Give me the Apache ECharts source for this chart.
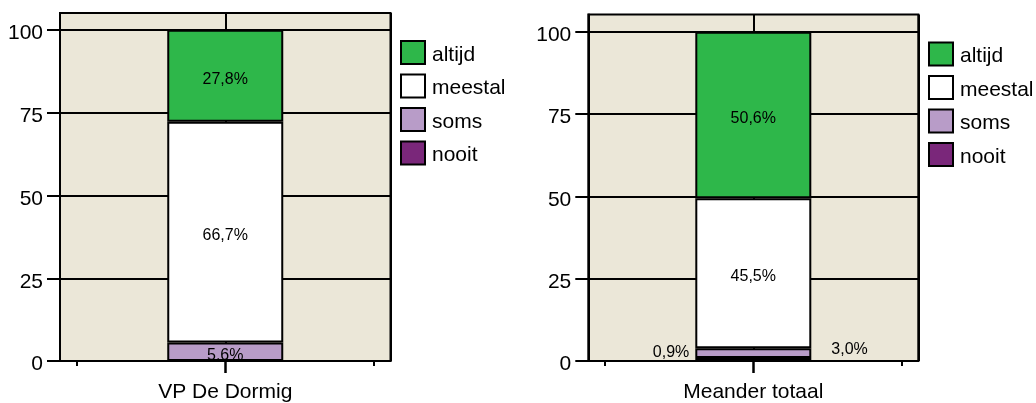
<!DOCTYPE html>
<html>
<head>
<meta charset="utf-8">
<script src="https://cdn.jsdelivr.net/npm/echarts@6/dist/echarts.min.js"></script>
<style>
html,body{margin:0;padding:0;background:#fff;}
#c{width:1036px;height:403px;}
</style>
</head>
<body>
<div id="c"></div>
<script>
// ---- data ----
const categories = ['VP De Dormig', 'Meander totaal'];
const legendOrder = ['altijd', 'meestal', 'soms', 'nooit'];
const altijd = [27.8, 50.6];
const meestal = [66.7, 45.5];
const soms = [5.6, 3.0];
const nooit = [0, 0.9];
const yTicks = [0, 25, 50, 75, 100];
const sideTicks = [-1, 1];

// ---- styling ----
const FONT = 'Liberation Sans, Arial, Helvetica, sans-serif';
const colors = { altijd: '#2EB74A', meestal: '#FFFFFF', soms: '#B89CC8', nooit: '#7A277A' };
const values = { altijd, meestal, soms, nooit };
const stackOrder = ['nooit', 'soms', 'meestal', 'altijd'];
const grids = [
  { left: 60, top: 13, width: 330.5, height: 349 },
  { left: 588.3, top: 14.5, width: 330, height: 347.2 }
];
const legendPos = [{ left: 400, top: 40 }, { left: 928, top: 41.5 }];
const YMAX = 105.2;

// label placement per panel per series
const inside = { position: 'inside', offset: [0, 3.5] };
const labelCfg = [
  { nooit: inside, soms: inside, meestal: inside, altijd: inside },
  { nooit: { position: 'left', distance: 6, offset: [0, -7] }, soms: { position: 'right', distance: 20, offset: [0, -4] },
    meestal: inside, altijd: inside }
];

const fmt = p => (p.value ? p.value.toFixed(1).replace('.', ',') + '%' : '');

const xAxes = [], yAxes = [], series = [], legends = [];
categories.forEach((cat, p) => {
  xAxes.push({
    type: 'category', gridIndex: p, position: 'bottom', data: [cat],
    axisLine: { show: true, onZero: false, lineStyle: { color: '#000', width: 2 } },
    axisTick: { show: true, alignWithLabel: true, length: 12, lineStyle: { color: '#000', width: 2.5 } },
    axisLabel: { fontSize: 21, color: '#000', margin: 21, fontFamily: FONT },
    splitLine: { show: false }
  });
  xAxes.push({
    type: 'value', gridIndex: p, position: 'bottom', min: -1.11, max: 1.11,
    axisLine: { show: false, onZero: false },
    axisTick: { show: true, customValues: sideTicks, length: 5, lineStyle: { color: '#000', width: 2 } },
    axisLabel: { show: false },
    splitLine: { show: false }
  });
  xAxes.push({
    type: 'value', gridIndex: p, position: 'bottom', min: -1, max: 1, interval: 1,
    axisLine: { show: false, onZero: false },
    axisTick: { show: false },
    axisLabel: { show: false },
    splitLine: { show: true, lineStyle: { color: '#000', width: 2 } }
  });
  yAxes.push({
    type: 'value', gridIndex: p, min: 0, max: YMAX,
    axisLine: { show: true, onZero: false, lineStyle: { color: '#000', width: 2 } },
    axisTick: { show: true, customValues: yTicks, length: 13, lineStyle: { color: '#000', width: 2 } },
    axisLabel: {
      customValues: yTicks, margin: 17,
      formatter: v => '{a|' + v + '}',
      rich: { a: { fontSize: 21, color: '#000', fontFamily: FONT, padding: [7, 0, 0, 0] } }
    },
    splitLine: { show: true, lineStyle: { color: '#000', width: 2 } }
  });
  stackOrder.forEach(name => {
    const lc = labelCfg[p][name];
    series.push({
      type: 'bar', name, xAxisIndex: p * 3, yAxisIndex: p, stack: 'panel' + p,
      barWidth: 116,
      data: [values[name][p]],
      itemStyle: { color: colors[name], borderColor: '#000', borderWidth: 2 },
      label: Object.assign({ show: true, formatter: fmt, fontSize: 16, color: '#000', fontFamily: FONT }, lc),
      emphasis: { disabled: true },
      animation: false
    });
  });
  legends.push(Object.assign({
    orient: 'vertical', padding: 0,
    data: legendOrder, itemWidth: 24, itemHeight: 23, itemGap: 8,
    icon: 'rect',
    itemStyle: { borderColor: '#000', borderWidth: 2 },
    formatter: name => '{t|' + name + '}',
    textStyle: { rich: { t: { fontSize: 21, color: '#000', fontFamily: FONT, padding: [5, 0, 0, 2] } } },
    selectedMode: false
  }, legendPos[p]));
});

const chart = echarts.init(document.getElementById('c'), null, { renderer: 'canvas' });
chart.setOption({
  animation: false,
  backgroundColor: '#fff',
  grid: grids.map(g => Object.assign({ show: true, backgroundColor: '#EBE7D8', borderColor: '#000', borderWidth: 2, containLabel: false }, g)),
  xAxis: xAxes,
  yAxis: yAxes,
  legend: legends,
  series
});
</script>
</body>
</html>
